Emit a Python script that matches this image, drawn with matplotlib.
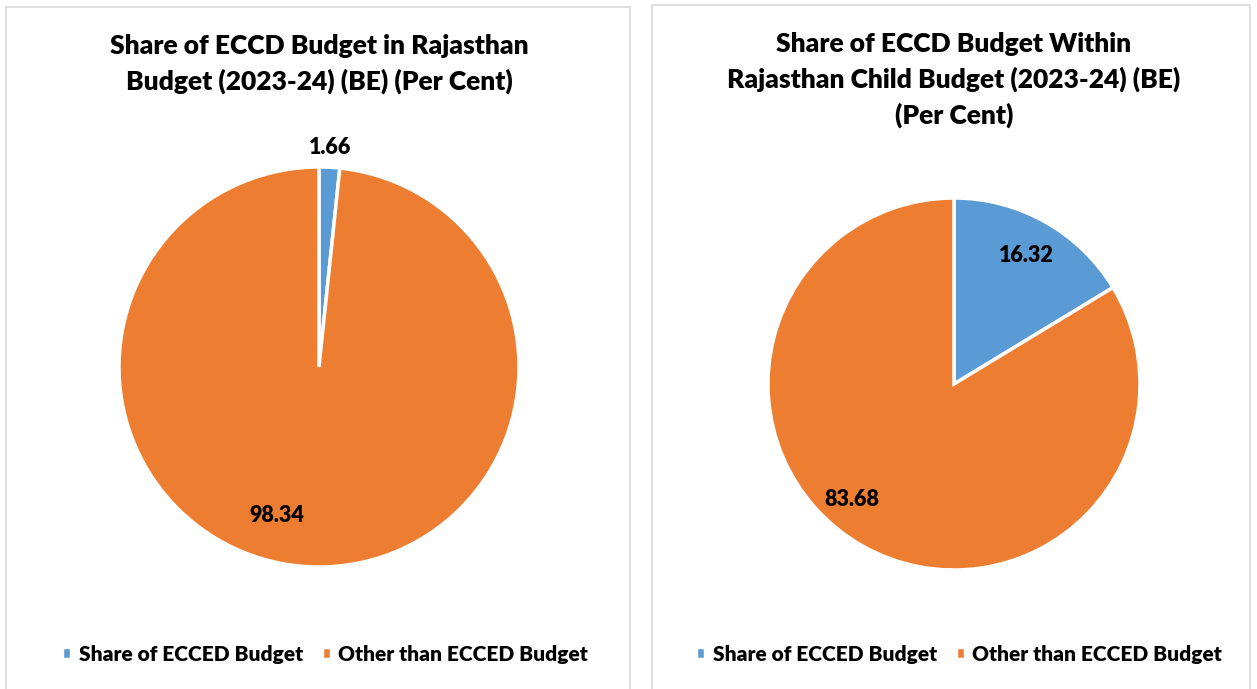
import numpy as np
import matplotlib.pyplot as plt
from matplotlib.patches import Rectangle

plt.rcParams['font.family'] = ['Lato', 'DejaVu Sans']
plt.rcParams['font.weight'] = 'bold'

categories = ["Share of ECCED Budget", "Other than ECCED Budget"]
state_share = [1.66, 98.34]
child_share = [16.32, 83.68]
titles = ["Share of ECCD Budget in Rajasthan\nBudget (2023-24) (BE) (Per Cent)",
          "Share of ECCD Budget Within\nRajasthan Child Budget (2023-24) (BE)\n(Per Cent)"]
colors = ["#5B9BD5", "#ED7D31"]

W, H = 1257, 689
fig = plt.figure(figsize=(W / 100, H / 100), dpi=100)

# panel frames (pixels: x0, y0, x1, y1 from top-left)
for x0, y0, x1, y1 in [(6, 7, 630, 700), (652, 5, 1250, 700)]:
    fig.patches.append(Rectangle((x0 / W, 1 - y1 / H), (x1 - x0) / W, (y1 - y0) / H,
                                 transform=fig.transFigure, fill=False,
                                 edgecolor="#D9D9D9", linewidth=1.2))


def draw_pie(values, title, cx, cy, r, title_y, label_dist, legend_x):
    ax = fig.add_axes([(cx - r) / W, 1 - (cy + r) / H, 2 * r / W, 2 * r / H])
    wedges, _ = ax.pie(values, colors=colors, startangle=90, counterclock=False,
                       wedgeprops=dict(edgecolor="white", linewidth=2.5))
    ax.set_xlim(-1, 1)
    ax.set_ylim(-1, 1)
    for w, v, d in zip(wedges, values, label_dist):
        ang = np.deg2rad((w.theta1 + w.theta2) / 2 + d[1])
        ax.text(d[0] * np.cos(ang), d[0] * np.sin(ang), f"{v:.2f}",
                ha="center", va="center", fontsize=15.5, fontweight="heavy")
    fig.text(cx / W, 1 - title_y / H, title, ha="center", va="top", fontsize=19,
             fontweight="heavy", linespacing=1.5)
    fig.legend(wedges, categories, loc="center", bbox_to_anchor=(legend_x / W, 1 - 654 / H),
               ncol=2, frameon=False, prop=dict(size=15, weight="heavy"),
               handlelength=0.45, handleheight=0.45, handletextpad=0.35, columnspacing=0.9)


draw_pie(state_share, titles[0], 319, 367, 200, 34, [(1.1, 0), (0.77, -13)], 325)
draw_pie(child_share, titles[1], 954, 384, 186, 32, [(0.79, 0), (0.83, -12)], 959)

fig.savefig("out.png", dpi=100)
